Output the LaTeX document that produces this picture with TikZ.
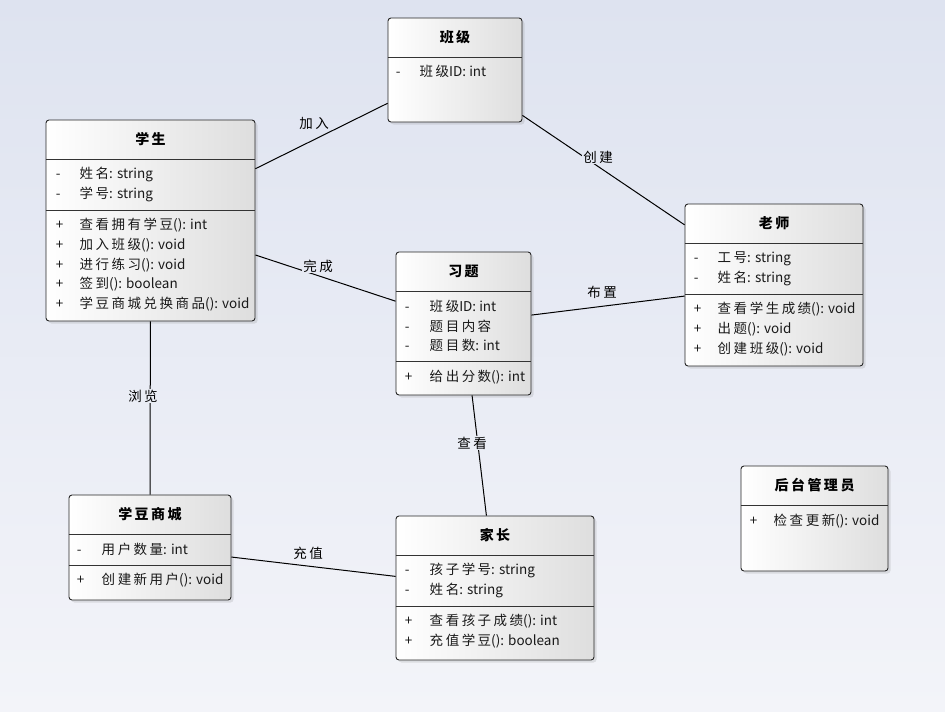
\documentclass[tikz,border=0pt]{standalone}
\usepackage{fontspec}
\setmainfont{Noto Sans CJK SC}
% spacing between Chinese characters
\newXeTeXintercharclass\hanzi
\count255="4E00
\loop
  \XeTeXcharclass\count255=\hanzi
  \advance\count255 by 1
\ifnum\count255<"9FFF \repeat
\XeTeXinterchartokenstate=1
\XeTeXinterchartoks\hanzi\hanzi={\kern2.5pt}
\usepackage{tikz}
\usetikzlibrary{shadows,calc,positioning}
\definecolor{bgtop}{RGB}{222,227,240}
\definecolor{bgbot}{RGB}{243,244,249}
\definecolor{boxright}{RGB}{222,222,222}
\tikzset{
  classbox/.style={draw=black!85, line width=0.9pt, rounded corners=3pt, left color=white, right color=boxright,
    drop shadow={shadow xshift=2.5pt, shadow yshift=-2.5pt, opacity=0.2}, inner sep=0pt},
  divider/.style={draw=black!80, line width=0.9pt},
  title/.style={font=\bfseries\fontsize{14}{16}\selectfont},
  member/.style={anchor=west, inner sep=0pt, font=\fontsize{13.5}{15}\selectfont, text=black!90},
  assoc/.style={draw=black, line width=1pt},
  lbl/.style={fill=bgbot!#1!bgtop, inner sep=1pt, font=\fontsize{13.5}{15}\selectfont},
  lbl/.default=50
}

\begin{document}
\begin{tikzpicture}[x=1pt, y=-1pt]
  \fill[top color=bgtop, bottom color=bgbot] (0,0) rectangle (945,712);

  % classes
  \node[classbox, minimum width=134pt, minimum height=104pt] (banji) at (455,70) {};
  \node[classbox, minimum width=209pt, minimum height=201pt] (xuesheng) at (150.5,220.5) {};
  \node[classbox, minimum width=178pt, minimum height=162pt] (laoshi) at (774,285) {};
  \node[classbox, minimum width=135pt, minimum height=143pt] (xiti) at (463.5,323.5) {};
  \node[classbox, minimum width=162pt, minimum height=105pt] (shangcheng) at (150,547.5) {};
  \node[classbox, minimum width=198pt, minimum height=144pt] (jiazhang) at (495,588) {};
  \node[classbox, minimum width=147pt, minimum height=105pt] (guanli) at (814.5,518.5) {};

  % titles and dividers
  \foreach \c/\name in {banji/班级, xuesheng/学生, laoshi/老师, xiti/习题, shangcheng/学豆商城, jiazhang/家长, guanli/后台管理员} {
    \node[title] at ($(\c.north)+(0,20)$) {\name};
    \draw[divider] ($(\c.north west)+(0,40)$) -- ($(\c.north east)+(0,40)$);
  }
  \draw[divider] ($(xuesheng.north west)+(0,91)$) -- ($(xuesheng.north east)+(0,91)$);
  \draw[divider] ($(laoshi.north west)+(0,91)$) -- ($(laoshi.north east)+(0,91)$);
  \draw[divider] ($(xiti.north west)+(0,110)$) -- ($(xiti.north east)+(0,110)$);
  \draw[divider] ($(shangcheng.north west)+(0,71)$) -- ($(shangcheng.north east)+(0,71)$);
  \draw[divider] ($(jiazhang.north west)+(0,91)$) -- ($(jiazhang.north east)+(0,91)$);

  % members
  \foreach \sg/\txt [count=\i from 0] in {-/班级ID: int}
    \node[member] at ($(banji.north west)+(8,54+19.6*\i)$) {\makebox[24pt][l]{\sg}\txt};
  \foreach \sg/\txt [count=\i from 0] in {-/姓名: string, -/学号: string}
    \node[member] at ($(xuesheng.north west)+(10,55+19.6*\i)$) {\makebox[24pt][l]{\sg}\txt};
  \foreach \sg/\txt [count=\i from 0] in {+/查看拥有学豆(): int, +/加入班级(): void, +/进行练习(): void, +/签到(): boolean, +/学豆商城兑换商品(): void}
    \node[member] at ($(xuesheng.north west)+(10,106+19.6*\i)$) {\makebox[24pt][l]{\sg}\txt};
  \foreach \sg/\txt [count=\i from 0] in {-/工号: string, -/姓名: string}
    \node[member] at ($(laoshi.north west)+(9,55+19.6*\i)$) {\makebox[24pt][l]{\sg}\txt};
  \foreach \sg/\txt [count=\i from 0] in {+/查看学生成绩(): void, +/出题(): void, +/创建班级(): void}
    \node[member] at ($(laoshi.north west)+(9,106+19.6*\i)$) {\makebox[24pt][l]{\sg}\txt};
  \foreach \sg/\txt [count=\i from 0] in {-/班级ID: int, -/题目内容, -/题目数: int}
    \node[member] at ($(xiti.north west)+(9,55+19.6*\i)$) {\makebox[25pt][l]{\sg}\txt};
  \foreach \sg/\txt [count=\i from 0] in {+/给出分数(): int}
    \node[member] at ($(xiti.north west)+(9,126+19.6*\i)$) {\makebox[25pt][l]{\sg}\txt};
  \foreach \sg/\txt [count=\i from 0] in {-/用户数量: int}
    \node[member] at ($(shangcheng.north west)+(8,55+19.6*\i)$) {\makebox[25pt][l]{\sg}\txt};
  \foreach \sg/\txt [count=\i from 0] in {+/创建新用户(): void}
    \node[member] at ($(shangcheng.north west)+(8,86+19.6*\i)$) {\makebox[25pt][l]{\sg}\txt};
  \foreach \sg/\txt [count=\i from 0] in {-/孩子学号: string, -/姓名: string}
    \node[member] at ($(jiazhang.north west)+(9,55+19.6*\i)$) {\makebox[25pt][l]{\sg}\txt};
  \foreach \sg/\txt [count=\i from 0] in {+/查看孩子成绩(): int, +/充值学豆(): boolean}
    \node[member] at ($(jiazhang.north west)+(9,106+19.6*\i)$) {\makebox[25pt][l]{\sg}\txt};
  \foreach \sg/\txt [count=\i from 0] in {+/检查更新(): void}
    \node[member] at ($(guanli.north west)+(9,56+19.6*\i)$) {\makebox[24pt][l]{\sg}\txt};

  % associations
  \draw[assoc] (xuesheng) -- (banji);
  \draw[assoc] (banji) -- (laoshi);
  \draw[assoc] (xuesheng) -- (xiti);
  \draw[assoc] (xiti) -- (laoshi);
  \draw[assoc] (xuesheng) -- (shangcheng);
  \draw[assoc] (xiti) -- (jiazhang);
  \draw[assoc] (shangcheng) -- (jiazhang);

  % labels
  \node[lbl=17] (jiaru) at (314,123) {加入};
  \node[lbl=22] (chuangjian) at (598,157) {创建};
  \node[lbl=38] (wancheng) at (318,266) {完成};
  \node[lbl=41] (buzhi) at (602,292) {布置};
  \node[lbl=56] (liulan) at (143,396) {浏览};
  \node[lbl=62] (chakan) at (472,443) {查看};
  \node[lbl=78] (chongzhi) at (308,553) {充值};
\end{tikzpicture}
\end{document}
